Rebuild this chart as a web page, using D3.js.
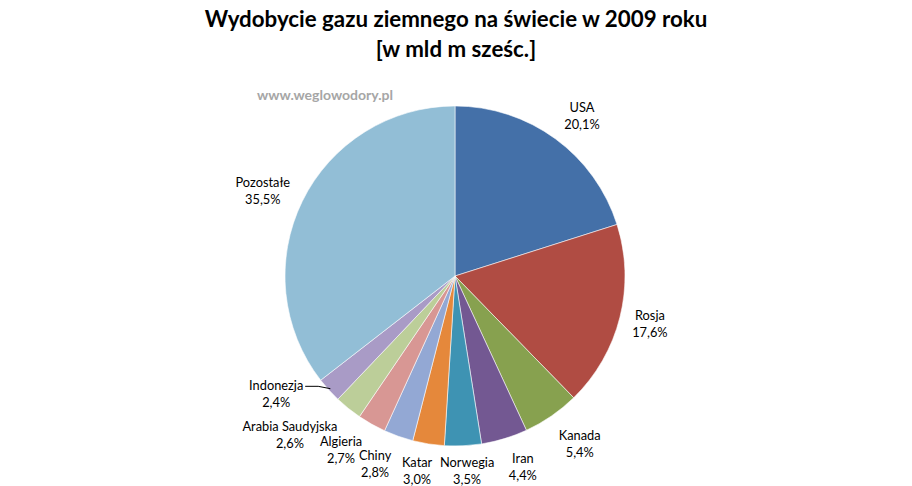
<!DOCTYPE html>
<html><head><meta charset="utf-8">
<script src="https://cdn.jsdelivr.net/npm/d3@7/dist/d3.min.js"></script>
<style>body{margin:0;background:#fff}svg{display:block}</style>
</head><body>
<svg id="c" width="912" height="486"></svg>
<script>
const categories = ["USA","Rosja","Kanada","Iran","Norwegia","Katar","Chiny","Algieria","Arabia Saudyjska","Indonezja","Pozostałe"];
const shares = [20.1,17.6,5.4,4.4,3.5,3.0,2.8,2.7,2.6,2.4,35.5];
const valueLabels = ["20,1%","17,6%","5,4%","4,4%","3,5%","3,0%","2,8%","2,7%","2,6%","2,4%","35,5%"];
const colors = ["#4470A8","#B04C43","#87A14F","#735892","#3E93B3","#E5883B","#93A8D4","#D89794","#BCCE99","#A99BC6","#92BED6"];
const titleLines = ["Wydobycie gazu ziemnego na świecie w 2009 roku","[w mld m sześc.]"];
const watermark = "www.weglowodory.pl";
// label nudges (layout only)
const nudges = [[6.5,4.5],[-3,-1.5],[9,-1],[8.5,-5],[2.5,-9],[-6,-6.5],[-12,-4.5],[-14,-4],[-37,0],[-27.5,-19],[-9,4.5]];

const svg = d3.select("#c");
const cx = 455, cy = 276, R = 170, LR = 204;
const font = "Lato, 'Open Sans', sans-serif";

svg.append("g").selectAll("text").data(titleLines).join("text")
  .attr("x",456).attr("y",(d,i)=>27+i*30).attr("text-anchor","middle")
  .attr("font-family",font).attr("font-weight","bold").attr("font-size",22.3).attr("fill","#000")
  .text(d=>d);

svg.append("text").attr("x",325).attr("y",100).attr("text-anchor","middle")
  .attr("font-family",font).attr("font-weight","bold").attr("font-size",14).attr("fill","#A6A6A6")
  .text(watermark);

const data = categories.map((c,i)=>({c, v:shares[i], lab:valueLabels[i], col:colors[i], n:nudges[i]}));
const pie = d3.pie().sort(null).value(d=>d.v);
const arcs = pie(data);
const arc = d3.arc().innerRadius(0).outerRadius(R);
const g = svg.append("g").attr("transform",`translate(${cx},${cy})`);
g.selectAll("path").data(arcs).join("path")
  .attr("d",arc).attr("fill",d=>d.data.col)
  .attr("stroke","#fff").attr("stroke-width",0.8).attr("stroke-opacity",0.7);

const pos = d=>{const a=(d.startAngle+d.endAngle)/2;
  return [Math.sin(a)*LR+d.data.n[0], -Math.cos(a)*LR+d.data.n[1]];};
const lab = g.selectAll("g.lab").data(arcs).join("g").attr("class","lab")
  .attr("transform",d=>`translate(${pos(d)})`);
lab.append("text").attr("y",-8.5).attr("text-anchor","middle").attr("dominant-baseline","central")
  .attr("font-family",font).attr("font-size",12.8).attr("fill","#000").text(d=>d.data.c);
lab.append("text").attr("y",8.5).attr("text-anchor","middle").attr("dominant-baseline","central")
  .attr("font-family",font).attr("font-size",12.8).attr("fill","#000").text(d=>d.data.lab);

// leader line for Indonezja
const ind = arcs[9];
const ia = (ind.startAngle+ind.endAngle)/2;
const p0 = [Math.sin(ia)*(R-2), -Math.cos(ia)*(R-2)];
const [lx, ly0] = pos(ind); const ly = ly0-8.5;
g.append("path").attr("d",`M${lx+29},${ly+1}H${lx+42}L${p0[0]},${p0[1]}`)
  .attr("fill","none").attr("stroke","#000").attr("stroke-width",1);
</script>
</body></html>
